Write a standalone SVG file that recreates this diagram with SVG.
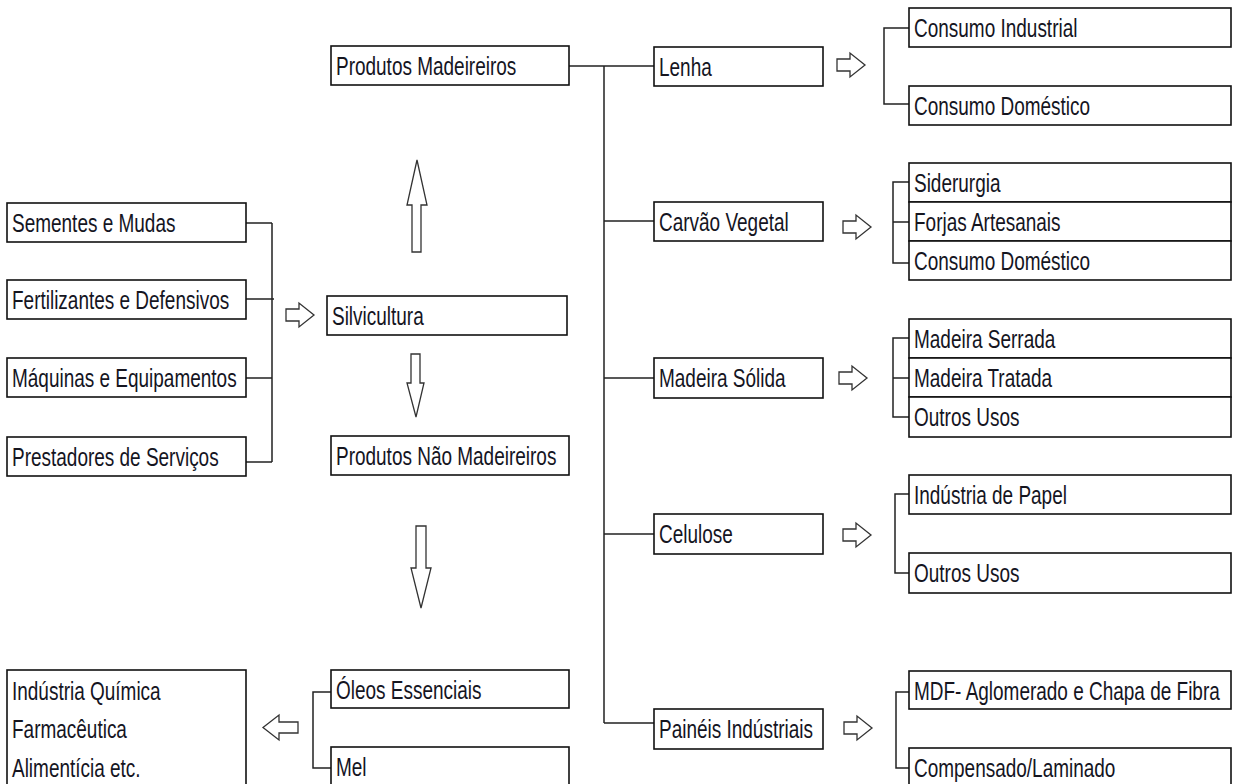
<svg xmlns="http://www.w3.org/2000/svg" xmlns:xlink="http://www.w3.org/1999/xlink" width="1233" height="784" viewBox="0 0 1233 784">
<style>
.box{fill:#fff;stroke:#111;stroke-width:1.6}
.t{font-family:"Liberation Sans",Arial,sans-serif;font-size:26px;fill:#15151f}
.ln{fill:none;stroke:#222;stroke-width:1.5}
.ar{fill:#fff;stroke:#333;stroke-width:1.3;stroke-linejoin:miter}
</style>
<defs>
<path id="ra" class="ar" d="M0,6 H13 V0 L28,12 L13,24 V18 H0 Z"/>
<path id="la" class="ar" d="M35,7 H16 V0 L0,12.5 L16,25 V18 H35 Z"/>
</defs>
<rect width="1233" height="784" fill="#fff"/>

<g id="connectors">
<path class="ln" d="M246,223 H272 M246,299 H274 M246,378 H272 M246,462 H272 M272,223 V462"/>
<path class="ln" d="M569,66 H654 M604,66 V723 M604,221 H654 M604,378 H654 M604,534 H654 M604,723 H654"/>
<path class="ln" d="M909,28 H884 V104 H909"/>
<path class="ln" d="M909,182 H893 V263 H909 M893,222 H909"/>
<path class="ln" d="M909,338 H893 V417 H909 M893,378 H909"/>
<path class="ln" d="M909,494 H895 V573 H909"/>
<path class="ln" d="M909,692 H896 V768 H909"/>
<path class="ln" d="M331,692 H313 V768 H331"/>
<use xlink:href="#ra" href="#ra" x="286" y="303"/>
<use xlink:href="#ra" href="#ra" x="837" y="53"/>
<use xlink:href="#ra" href="#ra" x="843" y="215"/>
<use xlink:href="#ra" href="#ra" x="839" y="366"/>
<use xlink:href="#ra" href="#ra" x="843" y="523"/>
<use xlink:href="#ra" href="#ra" x="844" y="716"/>
<use xlink:href="#la" href="#la" x="263" y="715"/>
<polygon class="ar" points="412,252 412,205 407,205 417,160 427,205 421,205 421,252"/>
<polygon class="ar" points="411,354 420,354 420,383 424,383 416,417 407,383 411,383"/>
<polygon class="ar" points="416,526 426,526 426,568 431,568 421,608 411,568 416,568"/>
</g>

<g id="sementes"><rect class="box" x="7" y="203" width="239" height="39"/><text class="t" transform="translate(12 232) scale(.73 1)">Sementes e Mudas</text></g>
<g id="fertilizantes"><rect class="box" x="7" y="280" width="239" height="39"/><text class="t" transform="translate(12 309) scale(.73 1)">Fertilizantes e Defensivos</text></g>
<g id="maquinas"><rect class="box" x="7" y="358" width="239" height="39"/><text class="t" transform="translate(12 387) scale(.73 1)">Máquinas e Equipamentos</text></g>
<g id="prestadores"><rect class="box" x="7" y="437" width="239" height="39"/><text class="t" transform="translate(12 466) scale(.73 1)">Prestadores de Serviços</text></g>

<g id="madeireiros"><rect class="box" x="331" y="46" width="238" height="39"/><text class="t" transform="translate(336 75) scale(.73 1)">Produtos Madeireiros</text></g>
<g id="silvicultura"><rect class="box" x="327" y="296" width="240" height="39"/><text class="t" transform="translate(332 325) scale(.73 1)">Silvicultura</text></g>
<g id="nao-madeireiros"><rect class="box" x="331" y="436" width="238" height="39"/><text class="t" transform="translate(336 465) scale(.73 1)">Produtos Não Madeireiros</text></g>
<g id="oleos"><rect class="box" x="331" y="670" width="238" height="38"/><text class="t" transform="translate(336 699) scale(.73 1)">Óleos Essenciais</text></g>
<g id="mel"><rect class="box" x="331" y="747" width="238" height="40"/><text class="t" transform="translate(336 776) scale(.73 1)">Mel</text></g>
<g id="industria-quimica"><rect class="box" x="7" y="670" width="239" height="120"/>
<text class="t" transform="translate(12 700) scale(.73 1)">Indústria Química</text>
<text class="t" transform="translate(12 738) scale(.73 1)">Farmacêutica</text>
<text class="t" transform="translate(12 777) scale(.73 1)">Alimentícia etc.</text></g>

<g id="lenha"><rect class="box" x="654" y="47" width="169" height="39"/><text class="t" transform="translate(659 76) scale(.73 1)">Lenha</text></g>
<g id="carvao"><rect class="box" x="654" y="202" width="169" height="39"/><text class="t" transform="translate(659 231) scale(.73 1)">Carvão Vegetal</text></g>
<g id="madeira-solida"><rect class="box" x="654" y="358" width="169" height="40"/><text class="t" transform="translate(659 387) scale(.73 1)">Madeira Sólida</text></g>
<g id="celulose"><rect class="box" x="654" y="514" width="169" height="40"/><text class="t" transform="translate(659 543) scale(.73 1)">Celulose</text></g>
<g id="paineis"><rect class="box" x="654" y="709" width="169" height="40"/><text class="t" transform="translate(659 738) scale(.73 1)">Painéis Indústriais</text></g>

<g id="consumo-industrial"><rect class="box" x="909" y="8" width="322" height="39"/><text class="t" transform="translate(914 37) scale(.73 1)">Consumo Industrial</text></g>
<g id="consumo-domestico-lenha"><rect class="box" x="909" y="86" width="322" height="39"/><text class="t" transform="translate(914 115) scale(.73 1)">Consumo Doméstico</text></g>
<g id="siderurgia"><rect class="box" x="909" y="163" width="322" height="39"/><text class="t" transform="translate(914 192) scale(.73 1)">Siderurgia</text></g>
<g id="forjas"><rect class="box" x="909" y="202" width="322" height="39"/><text class="t" transform="translate(914 231) scale(.73 1)">Forjas Artesanais</text></g>
<g id="consumo-domestico-carvao"><rect class="box" x="909" y="241" width="322" height="39"/><text class="t" transform="translate(914 270) scale(.73 1)">Consumo Doméstico</text></g>
<g id="madeira-serrada"><rect class="box" x="909" y="319" width="322" height="39"/><text class="t" transform="translate(914 348) scale(.73 1)">Madeira Serrada</text></g>
<g id="madeira-tratada"><rect class="box" x="909" y="358" width="322" height="39"/><text class="t" transform="translate(914 387) scale(.73 1)">Madeira Tratada</text></g>
<g id="outros-usos-madeira"><rect class="box" x="909" y="397" width="322" height="40"/><text class="t" transform="translate(914 426) scale(.73 1)">Outros Usos</text></g>
<g id="industria-papel"><rect class="box" x="909" y="475" width="322" height="39"/><text class="t" transform="translate(914 504) scale(.73 1)">Indústria de Papel</text></g>
<g id="outros-usos-celulose"><rect class="box" x="909" y="553" width="322" height="40"/><text class="t" transform="translate(914 582) scale(.73 1)">Outros Usos</text></g>
<g id="mdf"><rect class="box" x="909" y="671" width="322" height="38"/><text class="t" transform="translate(914 700) scale(.73 1)">MDF- Aglomerado e Chapa de Fibra</text></g>
<g id="compensado"><rect class="box" x="909" y="748" width="322" height="40"/><text class="t" transform="translate(914 777) scale(.73 1)">Compensado/Laminado</text></g>
</svg>
